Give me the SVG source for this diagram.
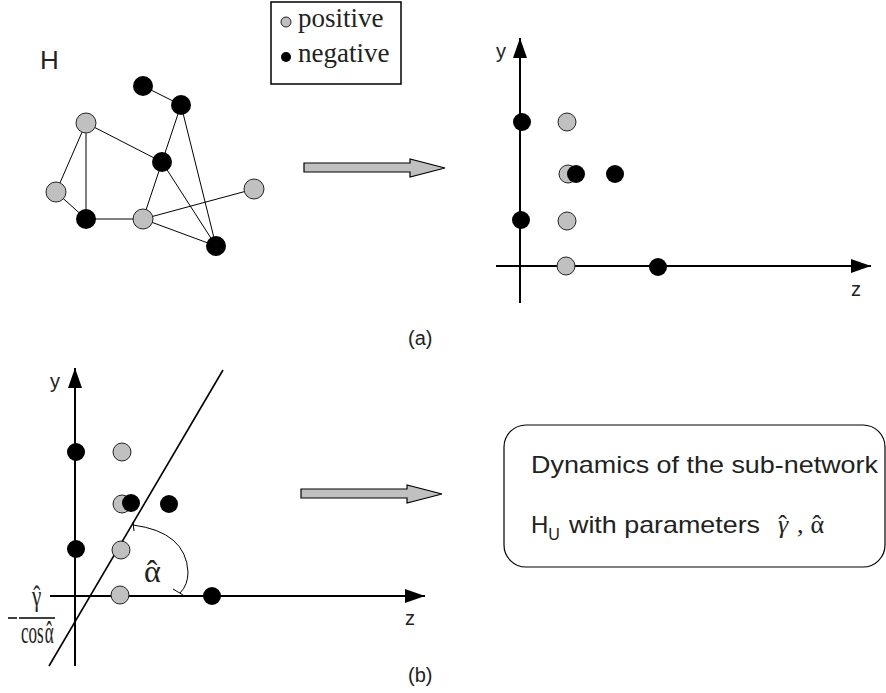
<svg xmlns="http://www.w3.org/2000/svg" width="886" height="693" viewBox="0 0 886 693">
<defs>
<style>
.edge{stroke:#000;stroke-width:1;fill:none}
.pos{fill:#c0c0c0;stroke:#222;stroke-width:1}
.neg{fill:#000}
.axis{stroke:#000;stroke-width:2;fill:none}
.big{fill:#c0c0c0;stroke:#000;stroke-width:1.2}
.sans{font-family:"Liberation Sans",Arial,sans-serif;fill:#222}
.serif{font-family:"Liberation Serif","Times New Roman",serif;fill:#222}
</style>
<marker id="ah" markerUnits="userSpaceOnUse" markerWidth="20" markerHeight="14" refX="20" refY="7" orient="auto">
<path d="M0,0 L20,7 L0,14 z" fill="#000"/>
</marker>
</defs>
<rect width="886" height="693" fill="#fff"/>

<!-- legend -->
<g id="legend">
<rect x="271" y="2" width="130" height="82" fill="#fff" stroke="#000" stroke-width="1.5"/>
<circle cx="286" cy="22" r="5" class="pos"/>
<circle cx="286" cy="57" r="5" class="neg"/>
<text x="298" y="27" class="serif" font-size="27">positive</text>
<text x="298" y="62" class="serif" font-size="27">negative</text>
</g>

<text x="40" y="69" class="sans" font-size="26">H</text>

<!-- graph H -->
<g id="graph-edges">
<line class="edge" x1="143" y1="86" x2="181" y2="105"/>
<line class="edge" x1="86" y1="123" x2="56" y2="192"/>
<line class="edge" x1="86" y1="123" x2="86" y2="219"/>
<line class="edge" x1="86" y1="123" x2="162" y2="162"/>
<line class="edge" x1="181" y1="105" x2="162" y2="162"/>
<line class="edge" x1="162" y1="162" x2="143" y2="219"/>
<line class="edge" x1="181" y1="105" x2="216" y2="246"/>
<line class="edge" x1="162" y1="162" x2="216" y2="246"/>
<line class="edge" x1="56" y1="192" x2="86" y2="219"/>
<line class="edge" x1="86" y1="219" x2="143" y2="219"/>
<line class="edge" x1="143" y1="219" x2="254" y2="189"/>
<line class="edge" x1="143" y1="219" x2="216" y2="246"/>
</g>
<g id="n1"><circle cx="143" cy="86" r="10" class="neg"/></g>
<g id="n2"><circle cx="181" cy="105" r="10" class="neg"/></g>
<g id="n3"><circle cx="86" cy="123" r="10" class="pos"/></g>
<g id="n4"><circle cx="162" cy="162" r="10" class="neg"/></g>
<g id="n5"><circle cx="56" cy="192" r="10" class="pos"/></g>
<g id="n6"><circle cx="254" cy="189" r="10" class="pos"/></g>
<g id="n7"><circle cx="86" cy="219" r="10" class="neg"/></g>
<g id="n8"><circle cx="143" cy="219" r="10" class="pos"/></g>
<g id="n9"><circle cx="216" cy="246" r="10" class="neg"/></g>

<!-- big arrows -->
<g id="arrow-a">
<path class="big" d="M304,163 L410,163 L410,159 L445,168 L410,177 L410,172 L304,172 z"/>
</g>
<g id="arrow-b">
<path class="big" d="M301,489 L407,489 L407,485 L442,494 L407,503 L407,498 L301,498 z"/>
</g>

<!-- plot (a) -->
<g id="plot-a">
<line class="axis" x1="520" y1="303" x2="520" y2="38" marker-end="url(#ah)"/>
<line class="axis" x1="496" y1="266" x2="871" y2="266" marker-end="url(#ah)"/>
<text x="496" y="58" class="sans" font-size="20">y</text>
<text x="851" y="296" class="sans" font-size="20">z</text>
<circle cx="522" cy="122" r="9" class="neg"/>
<circle cx="567" cy="122" r="9" class="pos"/>
<circle cx="568" cy="174" r="9" class="pos"/>
<circle cx="576" cy="174" r="9" class="neg"/>
<circle cx="615" cy="174" r="9" class="neg"/>
<circle cx="521" cy="220" r="9" class="neg"/>
<circle cx="567" cy="221" r="9" class="pos"/>
<circle cx="566" cy="266" r="9" class="pos"/>
<circle cx="658" cy="267" r="9" class="neg"/>
</g>
<text x="408" y="345" class="sans" font-size="20">(a)</text>

<!-- plot (b) -->
<g id="plot-b">
<line class="axis" x1="75" y1="666" x2="75" y2="368" marker-end="url(#ah)"/>
<line class="axis" x1="50" y1="596" x2="425" y2="596" marker-end="url(#ah)"/>
<text x="50" y="388" class="sans" font-size="20">y</text>
<text x="405" y="625" class="sans" font-size="20">z</text>
<line x1="49" y1="666" x2="223" y2="370" stroke="#000" stroke-width="1.6"/>
<path class="edge" stroke-width="1.3" d="M133,525 Q186,532 188,572 Q188,585 180,593"/>
<path class="edge" stroke-width="1.3" d="M133,522 L134,531 M173,589 L183,595"/>
<circle cx="76" cy="452" r="9" class="neg"/>
<circle cx="122" cy="452" r="9" class="pos"/>
<circle cx="122" cy="504" r="9" class="pos"/>
<circle cx="131" cy="503" r="9" class="neg"/>
<circle cx="169" cy="504" r="9" class="neg"/>
<circle cx="76" cy="549" r="9" class="neg"/>
<circle cx="121" cy="550" r="9" class="pos"/>
<circle cx="120" cy="595" r="9" class="pos"/>
<circle cx="212" cy="596" r="9" class="neg"/>
<text x="144" y="582" class="serif" font-size="32">α<tspan dx="-14">ˆ</tspan></text>
<text transform="translate(32,606) scale(0.7,1)" class="serif" font-size="30">γ<tspan dx="-11.5">ˆ</tspan></text>
<line x1="8" y1="618" x2="17" y2="618" stroke="#000" stroke-width="1.5"/>
<line x1="19" y1="618" x2="55" y2="618" stroke="#000" stroke-width="1.5"/>
<text transform="translate(21,643) scale(0.55,1)" class="serif" font-size="31">cos<tspan dx="2">α</tspan><tspan dx="-13.5">ˆ</tspan></text>
</g>
<text x="408" y="682" class="sans" font-size="20">(b)</text>

<!-- box -->
<g id="dynamics-box">
<rect x="504" y="425" width="381" height="142" rx="22" ry="22" fill="#fff" stroke="#000" stroke-width="1.2"/>
<text x="531" y="473" class="sans" font-size="24" textLength="347" lengthAdjust="spacingAndGlyphs">Dynamics of the sub-network</text>
<text x="531" y="533" class="sans" font-size="24">H<tspan font-size="16" dy="7">U</tspan></text>
<text x="569" y="533" class="sans" font-size="24" textLength="191" lengthAdjust="spacingAndGlyphs">with parameters</text>
<text x="778" y="533" class="serif" font-size="26"><tspan font-style="italic">γ</tspan><tspan dx="-10">ˆ</tspan><tspan dx="10">,</tspan><tspan dx="7">α</tspan><tspan dx="-11.5">ˆ</tspan></text>
</g>
</svg>
